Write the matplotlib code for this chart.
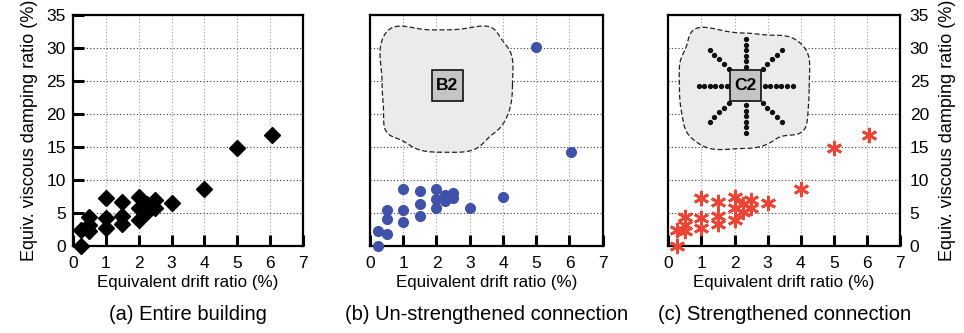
import numpy as np
import matplotlib
matplotlib.use("Agg")
import matplotlib.pyplot as plt
from matplotlib.patches import Polygon, Rectangle

plt.rcParams['font.family'] = ['Liberation Sans', 'DejaVu Sans']

# equivalent drift ratio (%) and equiv. viscous damping ratio (%)
drift = [0.25, 0.25, 0.5, 0.5, 0.5, 1, 1, 1, 1.5, 1.5, 1.5,
         2, 2, 2, 2.25, 2.25, 2.5, 2.5, 3, 4, 5, 6.05]
damp_building = [0, 2.5, 2.3, 3.2, 4.4, 7.2, 4.2, 2.8, 6.6, 4.6, 3.3,
                 7.5, 5.7, 3.9, 6.3, 5.1, 6.9, 5.7, 6.5, 8.7, 14.8, 16.8]
damp_unstrengthened = [0, 2.2, 1.8, 4.1, 5.5, 3.6, 5.4, 8.7, 4.5, 6.3, 8.4,
                       5.7, 7.1, 8.7, 6.8, 7.7, 7.2, 8.0, 5.7, 7.4, 30.1, 14.2]
damp_strengthened = damp_building

captions = ["(a) Entire building", "(b) Un-strengthened connection",
            "(c) Strengthened connection"]
xticks = list(range(0, 8))
yticks = list(range(0, 40, 5))

W, H = 964, 333
fig = plt.figure(figsize=(W / 100, H / 100), dpi=100)

ax_px = [(72.7, 230.6), (370.0, 232.7), (668.3, 231.7)]
ax_top, ax_bot = 15.0, 246.0
axes = []
for left, width in ax_px:
    ax = fig.add_axes([left / W, (H - ax_bot) / H, width / W, (ax_bot - ax_top) / H])
    axes.append(ax)


def style(ax, side):
    ax.set_xlim(0, 7)
    ax.set_ylim(0, 35)
    ax.set_xticks(xticks)
    ax.set_yticks(yticks)
    for s in ax.spines.values():
        s.set_linewidth(1.6)
    ax.xaxis.grid(True, color="#999999", ls=(0, (1, 2)), lw=0.8)
    ax.yaxis.grid(True, color="#333333", ls=(0, (1, 2)), lw=0.8)
    ax.set_axisbelow(True)
    ax.tick_params(axis="x", direction="in", length=8, width=2.2, labelsize=12.5, pad=7)
    if side == "left":
        ax.tick_params(axis="y", direction="in", length=8, width=2.2, labelsize=12.5, pad=5)
        ax.set_ylabel("Equiv. viscous damping ratio (%)", fontsize=13, labelpad=6)
    elif side == "right":
        ax.yaxis.tick_right()
        ax.yaxis.set_label_position("right")
        ax.tick_params(axis="y", direction="in", length=0, labelsize=12.5, pad=7)
        ax.set_ylabel("Equiv. viscous damping ratio (%)", fontsize=13, labelpad=7)
    else:
        ax.tick_params(axis="y", length=0, labelleft=False)
    ax.set_xlabel("Equivalent drift ratio (%)", fontsize=12.2, labelpad=3)


def blob(ax, cx, cy, rx, ry, phase):
    t = np.linspace(0, 2 * np.pi, 400)
    r = 1 + 0.05 * np.sin(3 * t + phase) + 0.035 * np.cos(5 * t + 2 * phase) + 0.02 * np.sin(7 * t)
    c, s = np.cos(t), np.sin(t)
    x = cx + rx * r * np.sign(c) * np.abs(c) ** 0.55
    y = cy + ry * r * np.sign(s) * np.abs(s) ** 0.55
    ax.add_patch(Polygon(np.column_stack([x, y]), closed=True, transform=ax.transAxes,
                         facecolor="#ebebeb", edgecolor="#222222", lw=0.9,
                         ls=(0, (4, 2)), zorder=1))


def box_label(ax, cx, cy, text, w_px, h_px):
    bw = 31 / w_px
    bh = 31 / h_px
    ax.add_patch(Rectangle((cx - bw / 2, cy - bh / 2), bw, bh, transform=ax.transAxes,
                           facecolor="#c4c4c4", edgecolor="#111111", lw=1.2, zorder=3))
    ax.text(cx, cy, text, transform=ax.transAxes, ha="center", va="center",
            fontsize=12.5, fontweight="bold", zorder=4)


# (a)
ax = axes[0]
style(ax, "left")
ax.plot(drift, damp_building, "D", color="black", ms=8.5, ls="none", clip_on=False, zorder=5)

# (b)
ax = axes[1]
style(ax, "none")
blob(ax, 0.32, 0.695, 0.28, 0.265, 0.4)
box_label(ax, 0.333, 0.693, "B2", 232.7, 231)
ax.plot(drift, damp_unstrengthened, "o", color="#3f51a9", ms=7, ls="none", clip_on=False, zorder=5)

# (c)
ax = axes[2]
style(ax, "right")
blob(ax, 0.323, 0.685, 0.28, 0.25, 1.3)
cx, cy = 0.334, 0.693
box_label(ax, cx, cy, "C2", 231.7, 231)
wpx, hpx = 231.7, 231.0
for ang in range(0, 360, 45):
    a = np.deg2rad(ang)
    if ang % 90 == 0:
        d = np.linspace(19, 47, 6)
    else:
        d = np.linspace(24, 51, 5)
    ax.plot(cx + d * np.cos(a) / wpx, cy + d * np.sin(a) / hpx, "o", color="#111111",
            ms=2.8, transform=ax.transAxes, zorder=2)
ax.plot(drift, damp_strengthened, ls="none", marker=(6, 2, 0), color="#ee4436",
        ms=11, mew=2, clip_on=False, zorder=5)

for (left, width), cap in zip(ax_px, captions):
    fig.text((left + width / 2) / W, 1 - 314 / H, cap, ha="center", va="center", fontsize=14.5)

fig.savefig("out.png", dpi=100)
